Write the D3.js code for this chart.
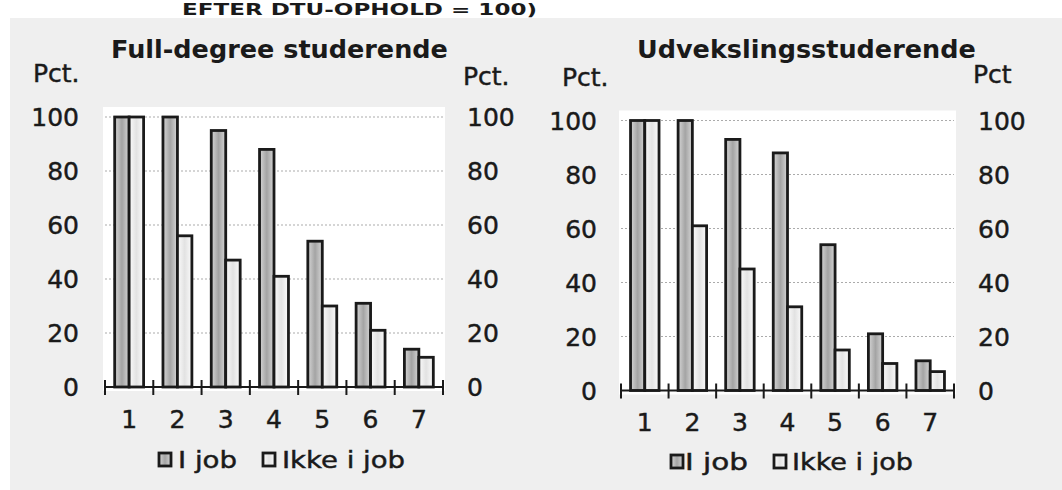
<!DOCTYPE html>
<html>
<head>
<meta charset="utf-8">
<script src="https://cdn.jsdelivr.net/npm/d3@7"></script>
<style>
  html, body { margin: 0; padding: 0; background: #ffffff; }
  svg { display: block; }
  text { font-family: "DejaVu Sans", Verdana, sans-serif; fill: #1a1a1a; }
  .reg { stroke: #1a1a1a; stroke-width: 0.45px; }
</style>
</head>
<body>
<svg id="chart" width="1062" height="490"></svg>
<script>
// ---------- data ----------
const categories = ["1", "2", "3", "4", "5", "6", "7"];
const seriesNames = ["I job", "Ikke i job"];
const fullDegreeIJob = [100, 100, 95, 88, 54, 31, 14];
const fullDegreeIkkeIJob = [100, 56, 47, 41, 30, 21, 11];
const udvekslingIJob = [100, 100, 93, 88, 54, 21, 11];
const udvekslingIkkeIJob = [100, 61, 45, 31, 15, 10, 7];
const yTickValues = [0, 20, 40, 60, 80, 100];
const titleFull = "Full-degree studerende";
const titleUdveksling = "Udvekslingsstuderende";
const topHeading = "EFTER DTU-OPHOLD = 100)";

// ---------- page ----------
const svg = d3.select("#chart");
svg.append("rect").attr("x", 10).attr("y", 18).attr("width", 1052).attr("height", 472).attr("fill", "#efefef");
svg.append("text").attr("x", 182).attr("y", 15).attr("font-size", 15).attr("font-weight", "bold")
  .attr("textLength", 355).attr("lengthAdjust", "spacingAndGlyphs").text(topHeading);

const defs = svg.append("defs");
function grad(id, edge, mid) {
  const g = defs.append("linearGradient").attr("id", id).attr("x1", "0%").attr("x2", "100%").attr("y1", "0%").attr("y2", "0%");
  g.append("stop").attr("offset", "0%").attr("stop-color", edge);
  g.append("stop").attr("offset", "50%").attr("stop-color", mid);
  g.append("stop").attr("offset", "100%").attr("stop-color", edge);
}
grad("gJob", "#d6d6d6", "#a4a4a4");
grad("gIkke", "#fbfbfb", "#e2e2e2");
const fills = ["url(#gJob)", "url(#gIkke)"];

function drawChart(cfg) {
  const g = svg.append("g");
  const x = d3.scaleBand().domain(categories).range([cfg.x0, cfg.x1]).padding(0);
  const xs = d3.scaleBand().domain(seriesNames).range([0, x.bandwidth()]).paddingInner(0).paddingOuter(0.67);
  const y = d3.scaleLinear().domain([0, 100]).range([cfg.yBase, cfg.yTop]);

  // plot area
  g.append("rect").attr("x", cfg.x0 - 2).attr("y", y(100) - 10)
    .attr("width", cfg.x1 - cfg.x0 + 4).attr("height", cfg.yBase - y(100) + 14).attr("fill", "#ffffff");

  // gridlines
  g.selectAll(".grid").data(yTickValues.filter(v => v > 0)).join("line")
    .attr("x1", cfg.x0).attr("x2", cfg.x1).attr("y1", d => y(d)).attr("y2", d => y(d))
    .attr("stroke", "#ababab").attr("stroke-width", 1).attr("stroke-dasharray", "2,2");

  // bars
  const rows = categories.map((c, i) => ({ c, vals: [cfg.a[i], cfg.b[i]] }));
  const grp = g.selectAll(".grp").data(rows).join("g").attr("transform", d => `translate(${x(d.c)},0)`);
  grp.selectAll("rect").data(d => d.vals.map((v, k) => ({ v, k }))).join("rect")
    .attr("x", d => xs(seriesNames[d.k]))
    .attr("width", xs.bandwidth())
    .attr("y", d => y(d.v))
    .attr("height", d => y(0) - y(d.v))
    .attr("fill", d => fills[d.k])
    .attr("stroke", "#1a1a1a").attr("stroke-width", 2.8);

  // x axis
  g.append("line").attr("x1", cfg.x0).attr("x2", cfg.x1).attr("y1", y(0)).attr("y2", y(0))
    .attr("stroke", "#1a1a1a").attr("stroke-width", 2);
  const bounds = categories.map(c => x(c)).concat([cfg.x1]);
  g.selectAll(".tk").data(bounds).join("line")
    .attr("x1", d => d).attr("x2", d => d).attr("y1", y(0) - 7).attr("y2", y(0) + 8)
    .attr("stroke", "#1a1a1a").attr("stroke-width", 2);
  g.selectAll(".xl").data(categories).join("text").attr("class", "reg")
    .attr("x", d => x(d) + x.bandwidth() / 2).attr("y", cfg.xLabelY)
    .attr("text-anchor", "middle").attr("font-size", 25).text(d => d);

  // y tick labels
  g.selectAll(".yl").data(yTickValues).join("text").attr("class", "reg")
    .attr("x", cfg.leftLabelX).attr("y", d => y(d)).attr("dy", "0.36em")
    .attr("text-anchor", "end").attr("font-size", 25).text(d => d);
  g.selectAll(".yr").data(yTickValues).join("text").attr("class", "reg")
    .attr("x", cfg.rightLabelX).attr("y", d => y(d)).attr("dy", "0.36em")
    .attr("text-anchor", "start").attr("font-size", 25).text(d => d);

  // units
  g.append("text").attr("class", "reg").attr("x", cfg.pctL[0]).attr("y", cfg.pctL[1]).attr("font-size", 25).text("Pct.");
  g.append("text").attr("class", "reg").attr("x", cfg.pctR[0]).attr("y", cfg.pctR[1]).attr("font-size", 25).text(cfg.pctRText);

  // title
  g.append("text").attr("x", cfg.titleX).attr("y", 58).attr("font-size", 25.5).attr("font-weight", "bold").text(cfg.title);

  // legend
  const lg = g.append("g");
  cfg.legend.forEach((L, k) => {
    lg.append("rect").attr("x", L.sx).attr("y", cfg.legendY - 15).attr("width", 12).attr("height", 13)
      .attr("fill", fills[k]).attr("stroke", "#1a1a1a").attr("stroke-width", 2.8);
    lg.append("text").attr("class", "reg").attr("x", L.tx).attr("y", cfg.legendY).attr("font-size", 23)
      .attr("textLength", L.tw).attr("lengthAdjust", "spacingAndGlyphs").text(seriesNames[k]);
  });
}

drawChart({
  x0: 105, x1: 443, yBase: 387, yTop: 117,
  a: fullDegreeIJob, b: fullDegreeIkkeIJob,
  leftLabelX: 79, rightLabelX: 467, xLabelY: 428,
  pctL: [33, 82], pctR: [463, 85], pctRText: "Pct.",
  title: titleFull, titleX: 111,
  legendY: 468,
  legend: [{ sx: 159, tx: 178, tw: 59 }, { sx: 263, tx: 282, tw: 123 }]
});

drawChart({
  x0: 621, x1: 954, yBase: 390.5, yTop: 120.5,
  a: udvekslingIJob, b: udvekslingIkkeIJob,
  leftLabelX: 597, rightLabelX: 978, xLabelY: 431,
  pctL: [562, 86], pctR: [973, 83], pctRText: "Pct",
  title: titleUdveksling, titleX: 637,
  legendY: 470,
  legend: [{ sx: 671, tx: 685, tw: 63 }, { sx: 774, tx: 792, tw: 121 }]
});
</script>
</body>
</html>
